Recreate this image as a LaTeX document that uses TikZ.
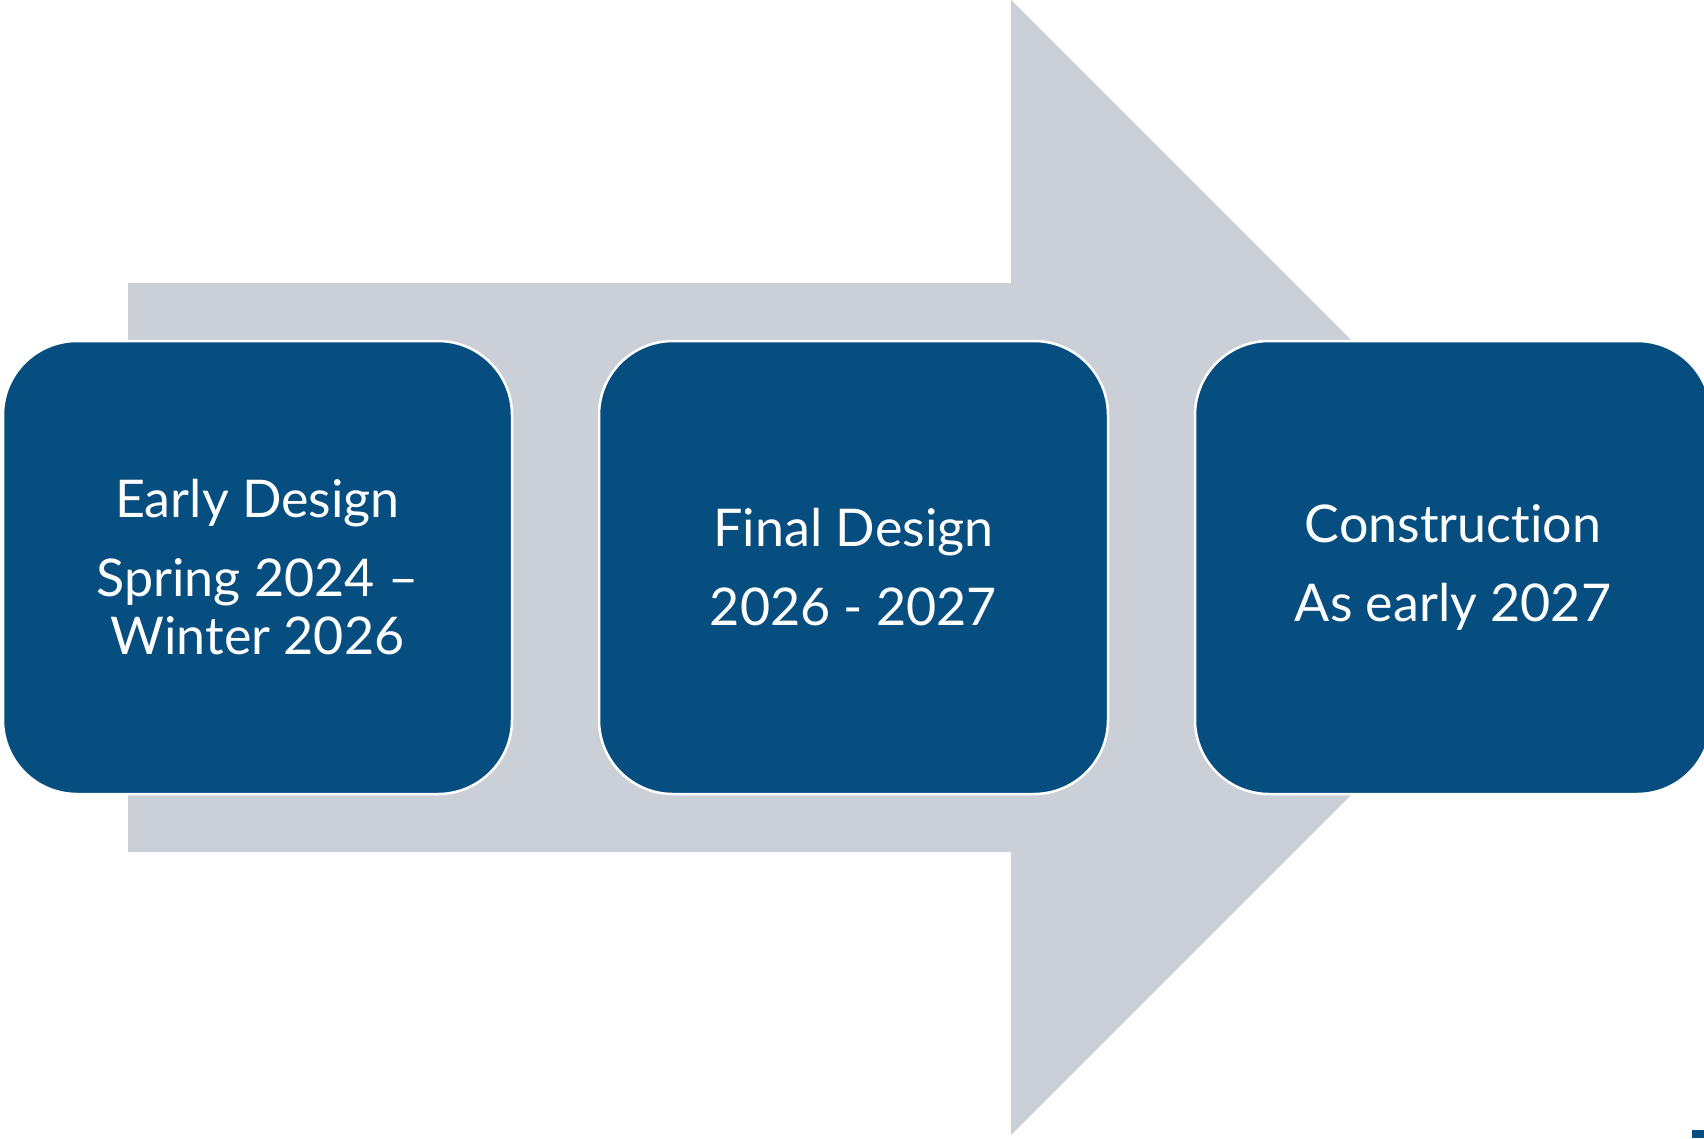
\documentclass[tikz,border=0pt]{standalone}
\usepackage{fontspec}
\setmainfont[Ligatures=NoCommon]{Lato}
\definecolor{arrowgrey}{RGB}{203,208,216}
\definecolor{boxblue}{RGB}{6,77,128}
\begin{document}
\begin{tikzpicture}[x=1pt,y=-1pt,
  stagebox/.style={fill=boxblue,draw=white,line width=2.5pt,rounded corners=74pt,
    minimum width=509pt,minimum height=453pt,inner sep=0pt,align=center,
    text=white,font=\fontsize{52}{58}\selectfont}]
\clip (0,0) rectangle (1704,1138);
\useasboundingbox (0,0) rectangle (1704,1138);
\fill[white] (0,0) rectangle (1704,1138);
\fill[arrowgrey] (128,283) -- (1011,283) -- (1011,0) -- (1578.5,567.5)
  -- (1011,1135) -- (1011,852) -- (128,852) -- cycle;
\node[stagebox] (b1) at (257.5,567.5) {Early Design\\[21pt]Spring 2024 –\\Winter 2026};
\node[stagebox] (b2) at (853.5,567.5) {Final Design\\[21pt]2026 - 2027};
\node[stagebox,minimum width=516pt] (b3) at (1453,567.5) {Construction\\[21pt]As early 2027};
\fill[boxblue] (1692,1130) rectangle (1704,1138);
\end{tikzpicture}
\end{document}
